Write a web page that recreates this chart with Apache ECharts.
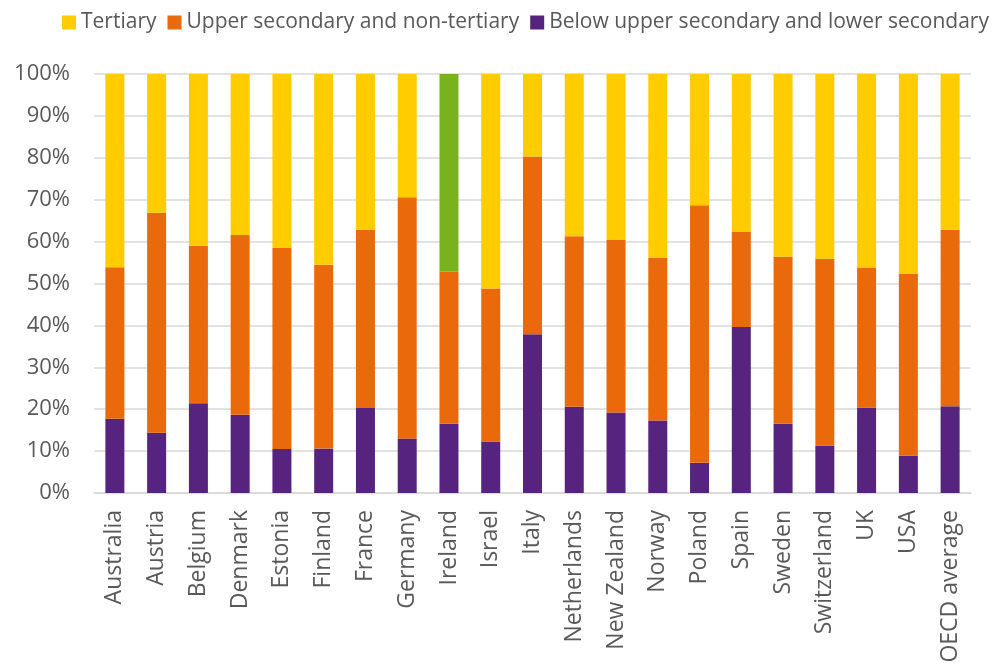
<!DOCTYPE html>
<html>
<head>
<meta charset="utf-8">
<script src="https://cdn.jsdelivr.net/npm/echarts@6/dist/echarts.min.js"></script>
<style>
html,body{margin:0;padding:0;background:#fff;}
#chart{width:996px;height:670px;}
</style>
</head>
<body>
<div id="chart"></div>
<script>
const categories = ["Australia","Austria","Belgium","Denmark","Estonia","Finland","France","Germany","Ireland","Israel","Italy","Netherlands","New Zealand","Norway","Poland","Spain","Sweden","Switzerland","UK","USA","OECD average"];
const belowUpperSecondary = [17.7,14.4,21.4,18.7,10.5,10.6,20.3,13.0,16.5,12.3,37.9,20.6,19.2,17.3,7.2,39.6,16.5,11.3,20.4,8.9,20.7];
const upperSecondary = [36.2,52.5,37.6,42.9,48.0,43.9,42.5,57.6,36.3,36.5,42.4,40.7,41.2,38.8,61.5,22.8,39.9,44.6,33.4,43.4,42.1];
const tertiary = [46.1,33.1,41.0,38.4,41.5,45.5,37.2,29.4,47.2,51.2,19.7,38.7,39.6,43.9,31.3,37.6,43.6,44.1,46.2,47.7,37.2];
const yTicks = [0,10,20,30,40,50,60,70,80,90,100];
const highlightCategory = "Ireland";

const FONT = "'Open Sans', 'Noto Sans', sans-serif";
const TXT = '#595959';
const chart = echarts.init(document.getElementById('chart'), null, {renderer:'canvas'});

const tertiaryData = tertiary.map((v,i)=> categories[i]===highlightCategory
  ? {value:v, itemStyle:{color:'#78B31E'}} : v);

const barCommon = {type:'bar', stack:'total', barWidth:19, animation:false};

chart.setOption({
  animation:false,
  legend:{
    top:7, left:57,
    itemWidth:14, itemHeight:14, itemGap:11,
    icon:'rect',
    data:['Tertiary','Upper secondary and non-tertiary','Below upper secondary and lower secondary'],
    textStyle:{color:TXT, fontSize:21, fontFamily:FONT, padding:[0,0,0,0]}
  },
  grid:{left:94, right:25, top:74, bottom:177, containLabel:false},
  xAxis:{
    type:'category', data:categories,
    axisLine:{lineStyle:{color:'#d9d9d9', width:1.5}},
    axisTick:{show:false},
    axisLabel:{rotate:90, color:TXT, fontSize:23, fontFamily:FONT, margin:17, interval:0}
  },
  yAxis:{
    type:'value', min:0, max:100, interval:10,
    axisLine:{show:false}, axisTick:{show:false},
    splitLine:{lineStyle:{color:'#d9d9d9', width:1.5}},
    axisLabel:{formatter: v => yTicks.includes(v) ? v + '%' : '', color:TXT, fontSize:22, fontFamily:FONT, margin:24}
  },
  series:[
    Object.assign({}, barCommon, {name:'Below upper secondary and lower secondary', data:belowUpperSecondary, itemStyle:{color:'#56237E'}}),
    Object.assign({}, barCommon, {name:'Upper secondary and non-tertiary', data:upperSecondary, itemStyle:{color:'#EA690B'}}),
    Object.assign({}, barCommon, {name:'Tertiary', data:tertiaryData, itemStyle:{color:'#FFCC00'}})
  ]
});
</script>
</body>
</html>
